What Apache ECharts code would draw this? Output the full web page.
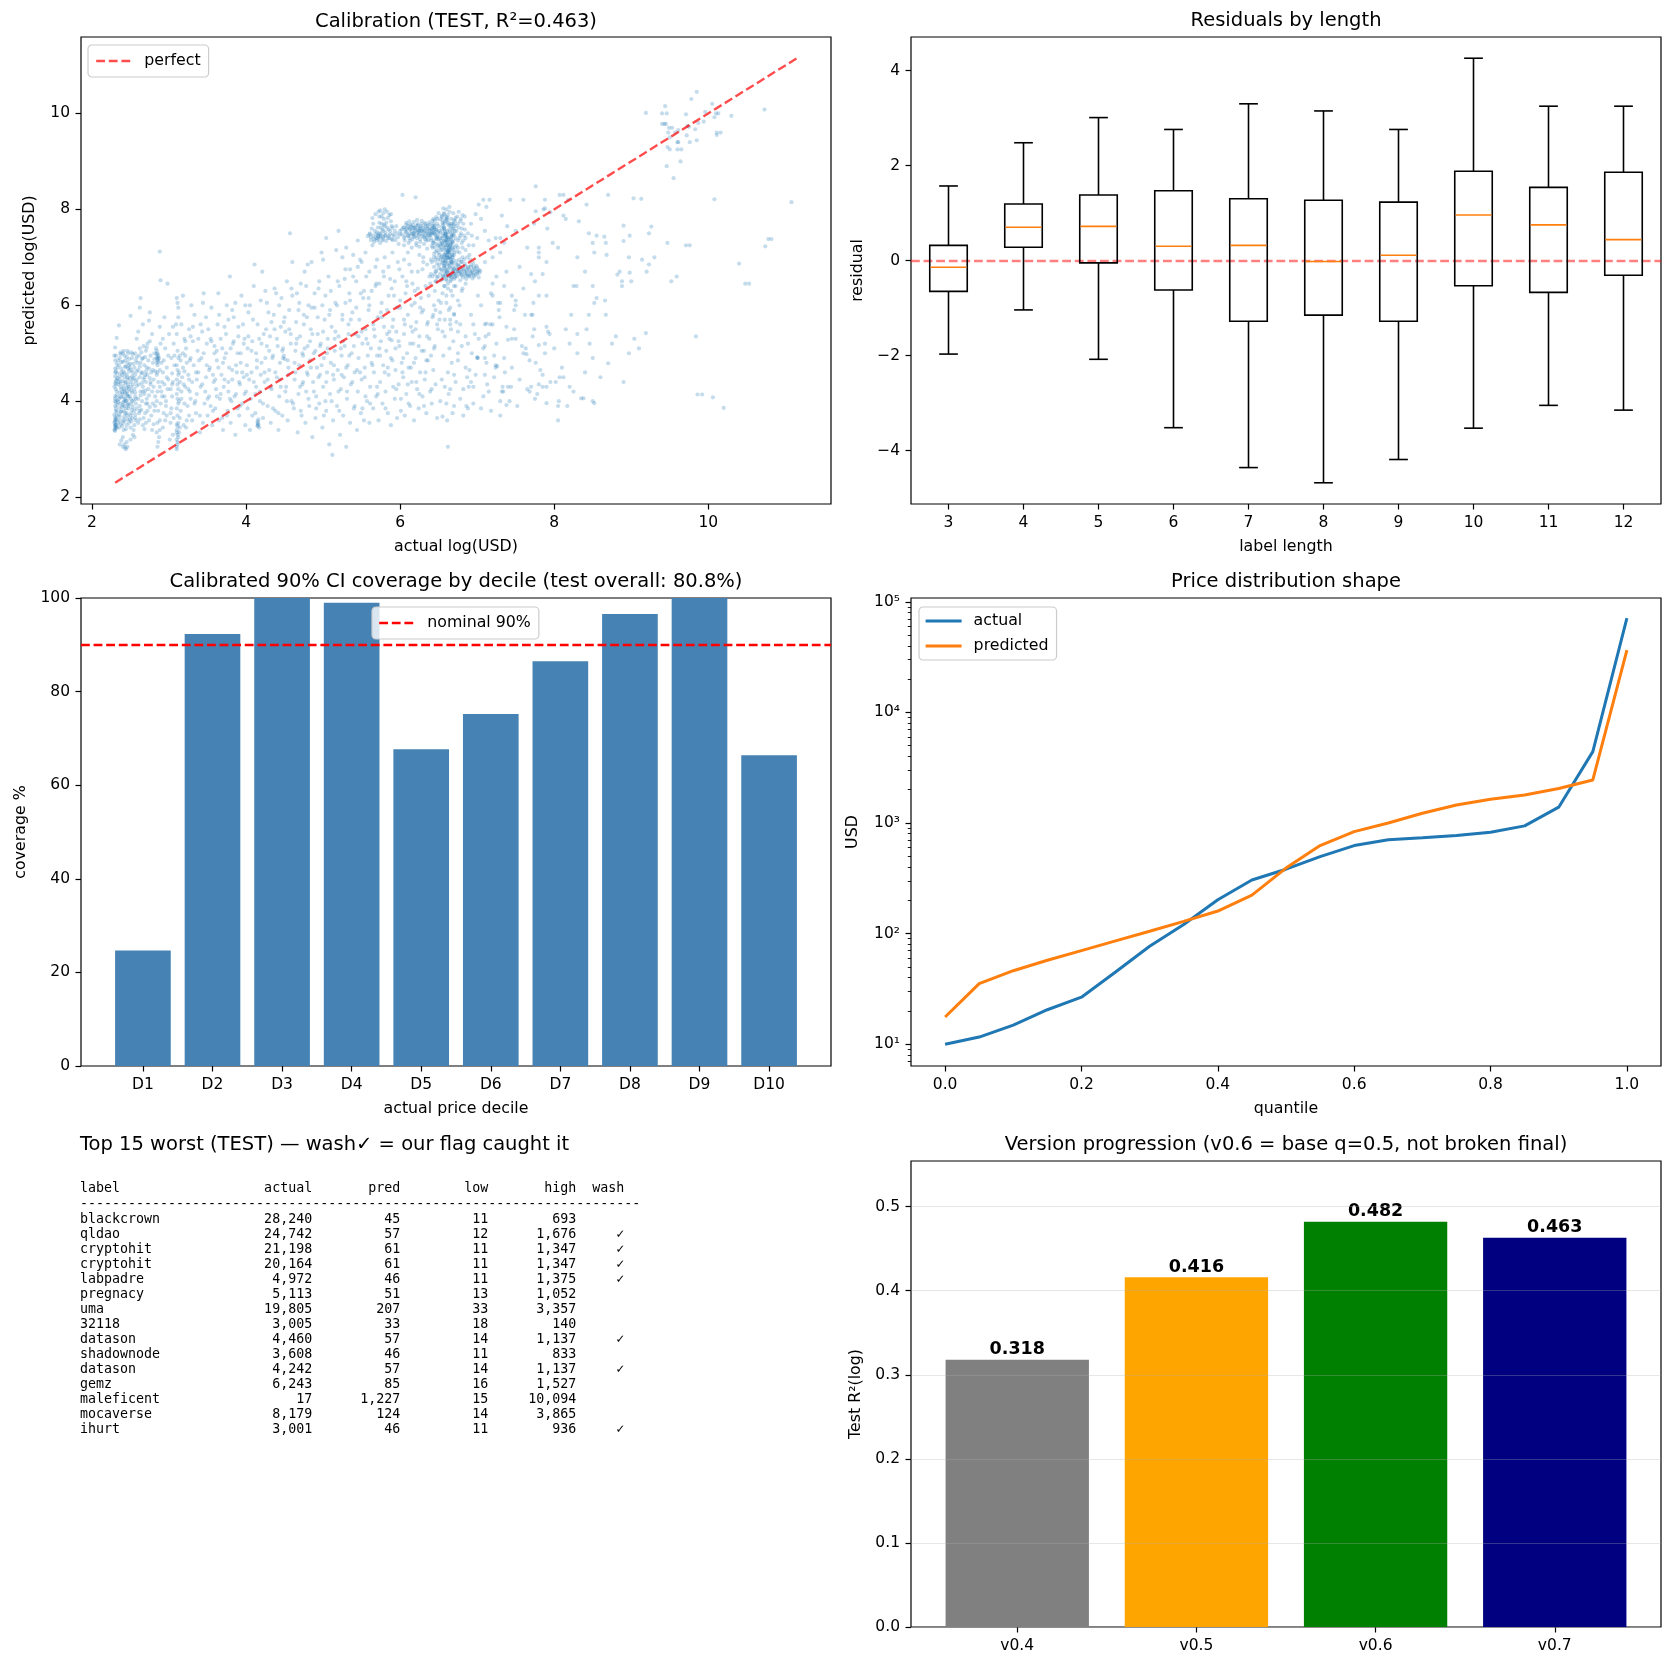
<!DOCTYPE html>
<html><head><meta charset="utf-8">
<script src="https://cdn.jsdelivr.net/npm/echarts@6/dist/echarts.min.js"></script>
<style>html,body{margin:0;padding:0;background:#fff}#c{width:1669px;height:1667px}</style>
</head><body><div id="c"></div>
<script>
const FONT = 'DejaVu Sans';
const MONO = 'DejaVu Sans Mono';

// ---------- Panel 1: calibration scatter (actual log, predicted log) ----------
const perfectRange = [2.3, 11.15];
const calibPoints = [
[2.30,3.42],[2.30,3.47],[2.31,3.52],[2.30,3.58],[2.31,3.63],[2.32,3.70],[2.30,3.38],[2.31,3.45],[2.29,3.55],[2.30,3.66],[2.32,3.78],[2.30,3.90],[2.31,3.97],[2.30,4.05],[2.32,4.12],[2.31,4.25],[2.30,4.38],[2.32,4.45],[2.30,4.52],[2.31,4.62],[2.33,4.70],[2.30,4.85],[2.31,4.95],[2.30,5.12],[2.32,5.32],
[2.35,3.45],[2.36,3.60],[2.35,3.72],[2.36,3.85],[2.37,3.95],[2.35,4.05],[2.36,4.18],[2.37,4.30],[2.35,4.40],[2.36,4.52],[2.38,4.60],[2.35,4.75],[2.36,4.90],[2.37,5.02],[2.35,5.58],
[2.40,3.25],[2.41,3.40],[2.40,3.55],[2.42,3.68],[2.41,3.80],[2.40,3.92],[2.42,4.00],[2.41,4.08],[2.40,4.15],[2.42,4.22],[2.41,4.32],[2.40,4.42],[2.42,4.50],[2.41,4.62],[2.43,4.72],[2.40,4.82],[2.42,4.95],[2.41,5.05],[2.42,3.10],[2.43,3.03],
[2.45,3.50],[2.46,3.62],[2.45,3.75],[2.47,3.85],[2.46,3.93],[2.45,4.02],[2.47,4.10],[2.46,4.20],[2.45,4.28],[2.47,4.35],[2.46,4.45],[2.45,4.55],[2.47,4.68],[2.46,4.80],[2.45,4.92],[2.47,5.00],[2.46,5.05],[2.45,3.15],[2.46,3.05],
[2.50,3.45],[2.51,3.58],[2.50,3.70],[2.52,3.82],[2.51,3.95],[2.50,4.05],[2.52,4.18],[2.51,4.30],[2.50,4.40],[2.52,4.52],[2.51,4.65],[2.50,4.78],[2.52,4.90],[2.51,5.02],[2.53,3.30],[2.50,3.20],[2.50,5.78],
[2.55,3.50],[2.56,3.65],[2.55,3.80],[2.57,3.95],[2.56,4.10],[2.55,4.25],[2.57,4.40],[2.56,4.55],[2.55,4.70],[2.57,4.85],[2.56,5.00],[2.58,5.30],[2.55,3.25],
[2.60,3.55],[2.61,3.75],[2.62,3.90],[2.60,4.05],[2.63,4.20],[2.61,4.35],[2.62,4.50],[2.60,4.65],[2.63,4.80],[2.61,4.95],[2.62,5.10],[2.60,5.45],[2.62,5.95],[2.63,6.15],
[2.66,3.50],[2.67,3.65],[2.65,4.00],[2.68,4.15],[2.66,4.30],[2.67,4.45],[2.65,4.60],[2.68,4.75],[2.66,4.90],[2.67,5.15],[2.66,5.60],
[2.70,3.55],[2.72,3.80],[2.71,4.05],[2.73,4.25],[2.70,4.40],[2.72,4.55],[2.71,4.70],[2.73,4.85],[2.70,5.05],[2.72,5.20],[2.74,5.68],[2.75,5.85],
[2.78,3.40],[2.77,3.70],[2.79,3.95],[2.78,4.20],[2.80,4.45],[2.77,4.60],[2.79,4.80],[2.81,5.00],[2.78,5.40],
[2.84,4.80],[2.85,4.85],[2.84,4.90],[2.86,4.95],[2.85,5.00],[2.84,5.05],[2.86,4.88],[2.85,4.75],[2.84,4.55],[2.86,4.40],[2.85,4.20],[2.84,4.00],[2.86,3.80],[2.85,3.55],[2.84,3.35],[2.86,3.15],[2.85,3.05],[2.87,3.25],[2.88,3.60],[2.88,4.30],[2.88,5.55],[2.88,7.12],[2.89,6.52],
[2.92,3.45],[2.93,3.75],[2.91,4.10],[2.94,4.35],[2.92,4.60],[2.93,4.85],[2.95,5.10],[2.92,5.30],[2.94,5.75],[2.96,3.90],[2.97,4.50],[2.98,6.45],
[3.10,3.00],[3.11,3.10],[3.10,3.20],[3.11,3.30],[3.10,3.40],[3.12,3.55],[3.11,3.70],[3.10,3.85],[3.12,3.95],[3.11,4.05],[3.10,4.15],[3.12,4.25],[3.11,4.35],[3.10,4.45],[3.12,4.55],[3.11,4.65],[3.10,4.75],[3.12,4.90],[3.11,5.05],[3.10,5.40],[3.12,5.75],[3.11,6.05],[3.10,6.15],[3.12,5.95],[3.11,3.48],[3.10,3.52],
[3.05,3.30],[3.06,3.65],[3.04,4.10],[3.05,4.40],[3.07,4.75],[3.06,5.20],[3.15,3.80],[3.16,4.20],[3.17,4.50],[3.15,4.85],[3.18,5.00],[3.16,5.60],[3.18,6.20],
[3.22,3.45],[3.24,3.90],[3.21,4.30],[3.25,4.55],[3.23,4.80],[3.22,5.10],[3.26,5.50],[3.28,4.05],[3.30,3.60],[3.30,4.40],[3.32,4.75],[3.31,5.25],[3.33,5.80],[3.35,3.75],[3.36,4.15],[3.38,4.60],[3.37,5.05],[3.40,3.35],[3.41,4.30],[3.42,4.90],[3.43,5.45],[3.44,6.05],[3.45,6.25],[3.46,3.95],[3.48,4.50],[3.49,5.20],[3.50,3.70],[3.52,4.10],[3.53,4.70],[3.54,5.30],[3.55,5.95],[3.56,3.50],[3.58,4.40],[3.59,5.00],[3.60,3.85],[3.61,4.25],[3.62,4.85],[3.63,5.60],[3.64,6.25],[3.65,3.60],
[3.66,4.05],[3.68,4.55],[3.69,5.10],[3.70,3.40],[3.71,4.30],[3.72,4.90],[3.74,5.40],[3.75,6.00],[3.76,3.80],[3.77,4.20],[3.78,4.70],[3.79,6.60],[3.80,3.55],[3.81,4.00],[3.82,4.45],[3.83,5.20],[3.84,5.75],[3.86,3.30],[3.87,4.15],[3.88,4.60],[3.89,5.00],[3.90,5.55],[3.91,3.70],[3.92,4.35],[3.93,4.80],[3.94,6.20],[3.95,3.95],[3.97,4.50],[3.98,5.30],[3.99,3.50],[4.00,4.20],[4.01,4.75],[4.02,5.10],[4.03,5.85],[4.05,3.40],[4.06,4.05],[4.07,4.60],[4.08,5.25],[4.10,6.40],[4.11,6.85],[4.12,3.75],[4.13,4.30],[4.14,4.85],
[4.15,3.50],[4.15,3.55],[4.16,3.52],[4.15,3.58],[4.16,3.62],[4.17,3.45],[4.15,3.48],
[4.18,4.00],[4.19,4.55],[4.20,5.20],[4.21,6.70],[4.22,3.65],[4.24,4.40],[4.25,4.90],[4.26,5.50],[4.27,6.05],[4.28,3.90],[4.30,4.65],[4.31,5.35],[4.32,3.55],[4.33,4.25],[4.35,4.95],[4.36,5.80],[4.37,6.35],[4.38,3.80],[4.40,4.50],[4.41,5.15],[4.42,3.40],[4.43,4.10],[4.44,4.80],[4.45,5.55],[4.46,6.15],[4.47,3.70],[4.48,4.90],[4.49,4.95],[4.50,4.88],[4.51,5.45],[4.52,4.30],[4.53,6.50],[4.54,3.60],[4.55,4.70],[4.56,5.90],[4.57,7.50],[4.58,5.20],[4.59,4.00],[4.60,6.90],
[4.62,3.85],[4.63,4.45],[4.64,5.05],[4.65,5.65],[4.66,6.25],[4.67,3.35],[4.68,4.15],[4.69,4.75],[4.70,5.35],[4.71,6.45],[4.72,3.70],[4.73,4.35],[4.74,4.95],[4.75,5.80],[4.76,6.70],[4.77,3.55],[4.78,4.20],[4.79,4.60],[4.80,5.15],[4.81,6.00],[4.82,3.90],[4.83,4.85],[4.84,5.50],[4.85,6.90],[4.86,3.25],[4.87,4.40],[4.88,5.00],[4.89,5.95],[4.90,3.65],[4.91,4.10],[4.92,4.70],[4.93,5.40],[4.94,6.35],[4.95,3.95],[4.96,4.55],[4.97,5.20],[4.98,7.10],[4.99,3.45],[5.00,4.30],[5.01,4.90],[5.02,5.70],[5.03,6.20],[5.04,3.80],[5.05,4.60],[5.06,5.30],[5.07,6.60],[5.08,3.10],[5.09,4.15],[5.10,4.80],[5.11,5.55],[5.12,2.88],[5.13,3.60],[5.14,4.45],[5.15,5.05],[5.16,6.05],[5.17,7.15],[5.18,3.90],[5.19,4.65],[5.20,5.35],[5.21,6.40],[5.22,3.30],[5.23,4.25],[5.24,4.95],[5.25,5.80],[5.26,3.70],[5.27,4.50],[5.28,5.15],[5.29,6.75],[5.30,3.05],[5.31,4.05],[5.32,4.75],[5.33,5.60],[5.34,6.25],[5.35,3.55],[5.36,4.35],[5.37,5.00],[5.38,5.85],[5.39,7.05],[5.40,3.85],[5.41,4.60],[5.42,5.40],[5.43,6.50],[5.44,3.40],[5.45,4.20],[5.46,4.90],[5.47,5.70],[5.48,6.95],[5.49,3.75],[5.50,4.45],[5.51,5.20],[5.52,6.15],[5.53,3.60],[5.54,4.70],[5.55,5.50],[5.56,6.60],[5.57,4.00],[5.58,4.95],[5.59,5.90],
[5.04,7.40],[5.30,7.20],[5.45,7.35],[5.55,7.10],[5.20,7.55],
[5.60,3.55],[5.61,4.30],[5.62,5.10],[5.63,6.30],[5.64,7.25],[5.65,3.85],[5.66,4.60],[5.67,5.35],[5.68,6.80],[5.69,4.10],[5.70,4.95],[5.71,5.75],[5.72,3.60],[5.73,6.45],[5.74,4.40],[5.75,5.25],[5.76,6.05],[5.77,3.95],[5.78,4.75],[5.79,5.55],[5.80,7.00],[5.81,4.20],[5.82,5.05],[5.83,5.90],[5.84,3.75],[5.85,4.55],[5.86,5.30],[5.87,6.55],[5.88,3.50],[5.89,5.27],[5.90,4.85],[5.91,5.70],[5.92,6.20],[5.93,4.05],[5.94,4.65],[5.95,5.45],[5.96,3.65],[5.97,6.90],[5.98,4.35],[5.99,5.15],[6.00,5.95],[6.01,3.80],[6.02,4.80],[6.03,6.60],[6.04,4.50],[6.05,5.40],[6.06,3.70],[6.07,6.25],[6.08,4.15],[6.09,5.00],[6.10,5.80],[6.11,4.70],[6.12,6.85],[6.13,3.90],[6.14,5.55],[6.15,4.40],[6.16,6.45],[6.17,5.20],[6.18,3.60],[6.19,6.05],[6.20,4.90],[6.21,5.65],[6.22,4.25],[6.23,6.70],[6.24,3.85],[6.25,5.35],[6.26,4.60],[6.27,6.15],[6.28,5.85],[6.29,4.10],[6.30,6.90],[6.31,5.05],[6.32,4.45],[6.33,6.40],[6.34,3.75],[6.35,5.60],[6.36,4.85],[6.37,6.20],[6.38,5.30],[6.39,4.20],[6.40,6.65],[6.41,3.95],[6.42,5.75],[6.43,4.65],[6.44,6.00],[6.45,5.15],[6.46,4.35],[6.47,6.50],[6.48,3.65],[6.49,5.50],
[5.70,7.40],[5.71,7.45],[5.72,7.38],[5.73,7.50],[5.74,7.42],[5.75,7.62],[5.76,7.70],[5.77,7.35],[5.78,7.55],[5.79,7.80],[5.80,7.65],[5.81,7.45],[5.82,7.72],[5.83,7.95],[5.84,7.40],[5.85,7.58],[5.86,7.88],[5.87,7.48],[5.88,7.75],[5.89,7.38],[5.90,7.62],[5.92,7.44],[5.94,7.36],[5.96,7.50],[5.98,7.28],[5.65,7.45],[5.66,7.38],[5.62,7.42],[5.60,7.48],[5.58,7.44],[5.74,7.98],[5.78,7.92],[5.73,7.85],[5.68,7.40],
[6.00,7.55],[6.02,7.48],[6.04,7.62],[6.05,7.40],[6.07,7.58],[6.08,7.52],[6.10,7.65],[6.11,7.45],[6.12,7.60],[6.13,7.35],[6.15,7.55],[6.16,7.68],[6.17,7.50],[6.18,7.42],[6.19,7.62],[6.20,7.58],[6.21,7.30],[6.22,7.52],[6.23,7.66],[6.24,7.45],[6.25,7.60],[6.26,7.38],[6.27,7.56],[6.28,7.70],[6.29,7.48],[6.30,7.62],[6.31,7.42],[6.32,7.55],[6.33,7.65],[6.34,7.35],[6.35,7.52],[6.36,7.60],[6.37,7.45],[6.38,7.68],[6.39,7.58],[6.40,7.40],[6.41,7.55],[6.42,7.62],[6.43,7.30],[6.44,7.50],[6.45,7.66],[6.46,7.45],[6.47,7.58],[6.48,7.38],[6.49,7.52],[6.05,7.25],[6.15,7.20],[6.25,7.22],[6.35,7.18],[6.12,7.75],[6.22,7.78],[6.32,7.72],[6.42,7.76],[6.08,7.68],[6.18,7.62],[6.28,7.55],[6.38,7.50],[6.20,8.25],[6.03,8.30],[6.30,7.00],[6.10,7.10],
[6.55,6.55],[6.56,6.62],[6.57,6.70],[6.58,6.78],[6.59,6.85],[6.60,6.92],[6.61,7.00],[6.62,7.08],[6.63,7.15],[6.64,7.22],[6.65,7.30],[6.66,7.38],[6.67,7.45],[6.68,7.52],[6.69,7.60],[6.70,7.68],[6.71,7.75],[6.72,7.82],
[6.54,7.85],[6.55,7.78],[6.56,7.70],[6.57,7.62],[6.58,7.55],[6.59,7.48],[6.60,7.40],[6.61,7.32],[6.62,7.25],[6.63,7.18],[6.64,7.10],[6.65,7.02],[6.66,6.95],[6.67,6.88],[6.68,6.80],[6.69,6.72],[6.70,6.65],[6.71,6.58],
[6.58,6.60],[6.60,6.68],[6.62,6.75],[6.64,6.82],[6.66,6.90],[6.58,6.98],[6.60,7.05],[6.62,7.12],[6.64,7.20],[6.66,7.28],[6.58,7.35],[6.60,7.42],[6.62,7.50],[6.64,7.58],[6.66,7.65],[6.58,7.72],[6.60,7.80],[6.62,7.88],[6.64,7.95],[6.63,6.60],[6.61,6.68],[6.59,6.75],[6.57,6.82],[6.55,6.90],[6.63,6.98],[6.61,7.05],[6.59,7.12],[6.57,7.20],[6.55,7.28],[6.63,7.35],[6.61,7.42],[6.59,7.50],[6.57,7.58],[6.55,7.65],[6.63,7.72],[6.61,7.78],[6.59,7.85],[6.57,7.92],[6.60,6.52],[6.62,6.45],[6.58,6.40],[6.65,6.50],[6.60,8.00],[6.64,8.05],[6.56,8.02],[6.68,7.30],[6.68,7.00],[6.67,7.70],[6.53,7.00],[6.52,7.40],[6.51,7.20],[6.69,7.45],[6.70,7.10],[6.72,7.40],
[6.72,6.70],[6.74,6.75],[6.76,6.72],[6.78,6.80],[6.80,6.68],[6.82,6.76],[6.84,6.82],[6.86,6.70],[6.88,6.78],[6.90,6.74],[6.92,6.80],[6.94,6.68],[6.96,6.76],[6.98,6.72],[7.00,6.78],[7.02,6.74],[6.75,6.85],[6.85,6.62],[6.95,6.88],[6.80,6.90],[6.90,6.60],
[6.75,7.20],[6.78,7.45],[6.80,7.60],[6.82,7.35],[6.85,7.15],[6.88,7.50],[6.90,7.05],[6.92,7.70],[6.95,7.25],[6.98,7.90],[7.00,7.40],[7.02,8.10],[7.05,7.80],[7.08,8.20],[7.10,7.55],[7.12,8.05],[6.76,7.95],[6.84,7.85],
[6.45,6.30],[6.50,6.10],[6.52,5.85],[6.55,6.25],[6.58,5.70],[6.60,6.05],[6.62,6.35],[6.65,5.95],[6.68,6.20],[6.70,5.80],[6.72,6.40],[6.48,5.60],[6.55,5.45],[6.65,5.60],[6.75,6.10],[6.80,6.30],[6.85,6.45],[6.62,3.05],[6.55,3.68],[6.60,3.95],[6.65,4.25],[6.70,4.55],[6.75,4.85],[6.80,5.15],[6.85,5.35],[6.90,4.65],[6.95,4.30],[7.00,4.90],[6.78,4.05],[6.88,3.85],
[7.16,8.20],[7.43,8.20],[7.60,8.20],[7.76,8.48],[7.88,8.20],[8.07,8.30],[8.12,8.30],[8.18,8.20],[8.42,8.10],[8.15,7.80],[8.12,7.87],[8.32,7.75],[7.95,7.94],[7.86,8.00],[7.88,8.02],[7.76,7.96],[7.74,7.70],[7.91,7.60],[7.98,7.30],[7.80,7.20],[7.80,7.10],[7.80,7.00],[7.32,7.87],[7.39,7.65],[7.30,7.40],[7.24,7.40],[7.15,7.35],[7.30,7.10],[7.38,6.70],[7.35,6.40],[7.45,6.20],[7.50,6.10],[7.60,6.35],[7.70,6.65],[7.75,6.50],[7.85,6.65],[7.80,6.20],[7.90,6.20],[7.73,6.05],[7.50,6.00],[7.48,5.90],[7.70,5.80],[7.72,5.80],[7.90,5.55],[7.92,5.45],[7.94,5.40],[7.88,5.20],[8.20,5.20],[8.22,5.80],[8.25,6.40],[8.29,6.40],[8.30,5.40],[8.42,5.50],[8.46,5.20],[8.50,7.30],[8.55,7.45],[8.45,7.50],[8.52,7.10],[8.50,6.40],[8.52,6.05],[8.55,6.15],[8.67,5.80],[8.66,6.10],[8.80,5.35],[8.50,4.90],[8.50,4.00],[8.52,3.96],[8.35,4.06],[8.38,4.06],[8.20,4.30],[8.17,3.90],[8.07,4.50],[8.12,4.50],[8.02,4.40],[8.05,3.90],[8.05,3.60],[8.06,4.00],[7.90,3.96],[7.90,4.30],[7.85,4.30],[7.85,4.55],[7.80,4.35],[7.70,4.30],[7.68,4.20],[7.78,4.15],[7.76,4.80],[7.80,5.17],[7.74,5.50],[7.60,5.00],[7.63,5.10],[7.64,4.98],[7.50,5.30],[7.45,5.30],[7.40,5.28],[7.30,6.05],[7.27,6.05],[7.20,6.20],[7.18,6.25],[7.10,5.60],[7.20,5.60],[7.17,5.60],[7.29,5.75],[7.11,5.35],[7.10,4.90],[7.08,5.10],[7.10,5.15],[7.22,4.95],[7.24,4.75],[7.26,4.73],[7.24,4.70],[7.36,4.60],[7.33,4.30],[7.34,4.20],[7.40,4.30],[7.44,4.30],[7.38,3.92],[7.30,4.00],[7.30,3.70],[7.15,4.20],[7.10,4.55],[7.13,4.35],[7.00,4.92],[7.01,4.90],[6.87,4.50],[6.82,4.25],[6.92,4.40],[6.58,4.30],[6.75,5.45],[6.65,5.70],[6.70,5.82],[6.95,5.60],[7.12,5.62],
[8.70,8.30],[9.03,8.23],[9.13,8.22],[8.67,7.30],[8.68,7.05],[8.65,7.43],[8.98,7.45],[8.90,7.66],[8.90,7.34],[8.97,7.00],[8.98,6.68],[9.00,6.50],[8.88,6.50],[8.88,6.40],[8.85,6.70],[8.82,6.64],[9.14,6.95],[9.23,6.85],[9.30,7.00],[9.20,6.70],[9.26,7.64],[9.23,7.50],[9.47,7.30],[9.71,7.25],[9.76,7.25],[9.59,6.60],[9.52,6.50],[9.19,5.42],[8.97,5.00],[9.04,5.30],[8.70,4.79],[9.84,5.35],[9.86,4.14],[9.92,4.14],[10.06,4.08],[10.20,3.86],[10.08,8.21],[10.40,6.87],[10.48,6.45],[10.53,6.45],[10.74,7.23],[10.78,7.38],[10.82,7.38],[10.73,10.08],[11.08,8.15],
[9.19,10.01],[9.40,10.00],[9.44,10.15],[9.46,10.00],[9.40,9.78],[9.43,9.78],[9.45,9.78],[9.49,9.70],[9.53,9.70],[9.57,9.60],[9.61,9.65],[9.48,9.60],[9.50,9.50],[9.60,9.40],[9.47,9.30],[9.50,9.25],[9.60,9.25],[9.65,9.25],[9.46,8.90],[9.55,8.65],[9.64,9.00],[9.71,9.98],[9.78,10.30],[9.85,10.45],[9.73,9.74],[9.75,9.72],[9.83,9.67],[9.87,9.80],[9.85,9.44],[9.76,9.40],[9.72,9.54],[9.61,9.40],[9.94,9.83],[9.96,10.03],[10.05,10.20],[10.10,10.00],[10.13,10.00],[10.08,9.92],[10.11,9.60],[10.16,9.60],[10.11,9.55],[10.30,9.95],
[6.46,6.50],[6.53,6.52],[6.60,6.55],[6.66,6.53],[6.48,6.58],[6.55,6.60],[6.62,6.62],[6.67,6.58],[6.45,6.65],[6.52,6.66],[6.59,6.64],[6.65,6.68],[6.47,6.72],[6.54,6.74],[6.61,6.71],[6.68,6.75],[6.44,6.80],[6.50,6.78],[6.57,6.82],[6.64,6.79],[6.48,6.86],[6.55,6.88],[6.62,6.85],[6.67,6.90],[6.45,6.93],[6.52,6.95],[6.59,6.92],[6.65,6.97],[6.47,7.00],[6.54,7.02],[6.61,6.99],[6.68,7.04],[6.44,7.07],[6.50,7.09],[6.57,7.06],[6.64,7.10],[6.48,7.14],[6.55,7.16],[6.62,7.13],[6.67,7.18],[6.45,7.21],[6.52,7.23],[6.59,7.20],[6.65,7.25],[6.47,7.28],[6.54,7.30],[6.61,7.27],[6.68,7.32],[6.44,7.35],[6.50,7.37],[6.57,7.34],[6.64,7.38],[6.48,7.42],[6.55,7.44],[6.62,7.41],[6.67,7.46],[6.45,7.49],[6.52,7.51],[6.59,7.48],[6.65,7.53],[6.47,7.56],[6.54,7.58],[6.61,7.55],[6.68,7.60],[6.44,7.63],[6.50,7.65],[6.57,7.62],[6.64,7.66],[6.48,7.70],[6.55,7.72],[6.62,7.69],[6.45,7.77],[6.52,7.79],[6.59,7.76],[6.47,7.84],[6.54,7.86],[6.61,7.83],[6.50,7.92],[6.57,7.90],
[6.49,6.95],[6.51,7.05],[6.53,7.15],[6.56,7.25],[6.58,7.05],[6.60,7.15],[6.49,7.25],[6.51,6.85],[6.53,7.35],[6.56,6.95],[6.58,7.45],[6.60,7.25],[6.49,7.45],[6.51,7.55],[6.53,6.75],[6.56,7.50],[6.58,6.90],[6.60,7.35],[6.63,7.00],[6.46,7.12],[6.47,7.40],[6.57,7.00],[6.55,7.40],[6.52,7.28],[6.59,7.32],
[6.70,6.55],[6.74,6.60],[6.78,6.52],[6.82,6.58],[6.86,6.55],[6.90,6.62],[6.94,6.56],[6.98,6.64],[7.02,6.58],[6.71,6.66],[6.75,6.70],[6.79,6.64],[6.83,6.72],[6.87,6.66],[6.91,6.70],[6.95,6.64],[6.99,6.82],[7.03,6.68],[6.72,6.78],[6.76,6.82],[6.80,6.76],[6.84,6.86],[6.88,6.80],[6.92,6.84],[6.96,6.80],[7.00,6.70],[6.69,6.88],[6.73,6.92],[6.77,6.95],[6.81,7.00],[6.70,7.05],[6.74,7.12],
[6.70,7.48],[6.73,7.55],[6.76,7.62],[6.79,7.50],[6.82,7.70],[6.70,7.78],[6.74,7.85],[6.78,7.75],[6.81,7.88],[6.84,7.58],[6.69,7.92],[6.72,7.65],[6.77,7.40],[6.80,7.30],[6.73,7.25],
[6.06,7.44],[6.09,7.60],[6.12,7.50],[6.14,7.64],[6.17,7.46],[6.19,7.55],[6.21,7.66],[6.24,7.52],[6.26,7.62],[6.29,7.44],[6.31,7.58],[6.34,7.50],[6.36,7.66],[6.39,7.46],[6.41,7.60],[6.43,7.52],[6.07,7.53],[6.10,7.45],[6.13,7.58],[6.16,7.62],[6.18,7.50],[6.20,7.45],[6.23,7.57],[6.25,7.48],[6.27,7.65],[6.30,7.53],[6.33,7.45],[6.35,7.60],[6.38,7.55],[6.40,7.48],[6.42,7.66],[6.44,7.57],
[6.06,7.35],[6.11,7.30],[6.16,7.38],[6.21,7.25],[6.26,7.32],[6.31,7.28],[6.36,7.36],[6.41,7.24],[6.08,7.72],[6.13,7.68],[6.18,7.74],[6.23,7.70],[6.28,7.76],[6.33,7.69],[6.38,7.73],[6.43,7.70],[6.05,7.62],[6.15,7.48],[6.25,7.55],[6.35,7.42],[6.22,7.40],[6.32,7.38],[6.12,7.40],[6.40,7.35],
[5.93,7.55],[5.97,7.42],[6.00,7.48],[6.02,7.58],[5.95,7.65],
[5.61,7.50],[5.63,7.60],[5.65,7.70],[5.67,7.55],[5.69,7.48],[5.71,7.62],[5.73,7.72],[5.75,7.45],[5.77,7.58],[5.79,7.68],[5.81,7.52],[5.83,7.62],[5.85,7.45],[5.87,7.55],[5.89,7.65],[5.91,7.48],[5.62,7.36],[5.66,7.32],[5.70,7.35],[5.74,7.30],[5.78,7.38],[5.82,7.34],[5.86,7.40],[5.90,7.36],[5.64,7.82],[5.68,7.90],[5.72,7.95],[5.76,7.85],[5.80,8.00],[5.84,7.82],[5.88,7.90],[5.70,7.52],[5.75,7.50],[5.80,7.46],[5.72,7.44],[5.78,7.42],
[2.29,3.40],[2.31,3.50],[2.30,3.60],[2.32,3.45],[2.29,3.72],[2.31,3.85],[2.33,3.92],[2.30,4.00],[2.32,4.20],[2.29,4.30],[2.31,4.42],[2.33,4.58],[2.30,4.68],[2.32,4.78],[2.29,4.95],[2.34,3.55],[2.36,3.68],[2.38,3.78],[2.34,3.98],[2.36,4.10],[2.38,4.25],[2.34,4.35],[2.36,4.45],[2.38,4.68],[2.34,4.85],[2.37,4.98],
[2.39,3.48],[2.41,3.62],[2.43,3.75],[2.39,3.88],[2.41,3.98],[2.43,4.05],[2.39,4.18],[2.41,4.25],[2.43,4.40],[2.39,4.55],[2.43,4.85],[2.40,5.00],[2.44,3.42],[2.46,3.70],[2.48,3.90],[2.44,4.00],[2.46,4.12],[2.48,4.25],[2.44,4.38],[2.46,4.50],[2.48,4.62],[2.44,4.72],[2.48,4.88],
[2.49,3.62],[2.51,3.75],[2.53,3.88],[2.49,4.10],[2.51,4.22],[2.53,4.35],[2.49,4.48],[2.53,4.60],[2.49,4.70],[2.53,4.98],[2.54,3.40],[2.56,3.72],[2.58,3.85],[2.54,4.02],[2.56,4.18],[2.58,4.32],[2.54,4.48],[2.58,4.62],[2.54,4.78],[2.58,4.92],[2.36,3.10],[2.38,3.18],[2.44,3.00],[2.40,3.05],
[2.62,3.62],[2.64,3.82],[2.63,4.12],[2.65,4.38],[2.64,4.58],[2.62,4.72],[2.65,4.88],[2.64,5.02],[2.68,3.42],[2.69,3.75],[2.70,3.95],[2.69,4.22],[2.68,4.50],[2.70,4.62],[2.69,4.92],[2.71,5.12],[2.74,3.60],[2.75,3.88],[2.74,4.12],[2.76,4.35],[2.75,4.48],[2.74,4.68],[2.76,4.95],[2.75,5.25],
[2.80,3.52],[2.81,3.80],[2.82,4.10],[2.80,4.30],[2.82,4.62],[2.81,4.88],[2.83,5.10],[2.88,3.40],[2.89,3.95],[2.90,4.20],[2.88,4.65],[2.90,4.80],[2.89,5.20],[2.95,3.60],[2.96,4.00],[2.98,4.25],[2.97,4.70],[2.99,4.95],[3.00,5.40],[3.01,3.20],
[3.02,3.55],[3.03,3.85],[3.02,4.25],[3.04,4.58],[3.03,4.90],[3.05,5.55],[3.13,3.35],[3.14,3.65],[3.13,4.00],[3.14,4.40],[3.13,4.60],[3.14,4.95],[3.19,3.50],[3.20,3.95],[3.19,4.35],[3.20,4.62],[3.21,4.95],[3.20,5.30],[3.26,3.70],[3.27,4.20],[3.26,4.45],[3.27,4.85],[3.28,5.35],[3.29,6.00],[3.10,3.05],[3.11,3.15],[3.12,3.25],[3.10,3.35],
[3.34,4.00],[3.36,4.45],[3.39,4.85],[3.41,5.60],[3.44,3.55],[3.47,4.20],[3.49,4.75],[3.51,5.50],[3.54,3.90],[3.57,4.55],[3.59,5.15],[3.62,4.10],[3.64,4.70],[3.67,5.30],[3.69,3.65],[3.72,4.45],[3.74,5.00],[3.77,5.70],[3.79,4.05],[3.82,4.65],[3.84,5.25],[3.86,6.05],[3.89,3.85],[3.91,4.40],[3.93,5.00],[3.96,5.60],[3.98,4.15],[4.01,4.55],[4.03,5.35],[4.05,6.00],
[4.08,3.70],[4.10,4.40],[4.13,5.00],[4.15,5.60],[4.18,4.20],[4.20,4.80],[4.23,5.40],[4.25,6.30],[4.28,4.45],[4.30,5.05],[4.33,5.65],[4.35,3.85],[4.38,4.60],[4.40,5.30],[4.43,6.00],[4.45,4.30],[4.48,5.10],[4.50,5.75],[4.53,4.00],[4.55,4.55],[4.58,5.40],[4.60,6.20],[4.63,4.80],[4.65,5.20],[4.68,5.90],[4.70,4.30],[4.73,5.00],[4.75,5.60],[4.78,6.40],[4.80,4.55],
[4.83,5.25],[4.85,5.95],[4.88,4.20],[4.90,5.05],[4.93,5.75],[4.95,6.50],[4.98,4.75],[5.00,5.45],[5.03,4.00],[5.05,5.00],[5.08,5.80],[5.10,6.30],[5.13,4.55],[5.15,5.30],[5.18,6.00],[5.20,4.20],[5.23,5.10],[5.25,5.70],[5.28,6.55],[5.30,4.70],[5.33,5.40],[5.35,6.10],[5.38,4.40],[5.40,5.15],[5.43,5.95],[5.45,6.80],[5.48,4.60],[5.50,5.45],[5.53,6.30],[5.55,4.10],
[5.58,5.20],[5.60,6.00],[5.63,4.80],[5.65,5.60],[5.68,6.40],[5.70,4.30],[5.73,5.10],[5.75,5.85],[5.78,6.70],[5.80,4.60],[5.83,5.40],[5.85,6.20],[5.88,4.90],[5.90,5.55],[5.93,6.50],[5.95,4.25],[5.98,5.25],[6.00,6.10],[6.03,4.60],[6.05,5.70],[6.08,6.50],[6.10,4.35],[6.13,5.20],[6.15,6.00],[6.18,4.80],[6.20,5.50],[6.23,6.35],[6.25,4.15],[6.28,5.05],[6.30,5.90],[6.33,4.60],[6.35,5.35],[6.38,6.60],[6.40,4.95],[6.43,5.80],
[4.80,6.85],[5.00,6.95],[5.25,7.00],[5.50,6.90],[5.70,6.95],[5.90,7.10],[6.05,6.95],[6.25,7.05],[6.40,6.95],[5.35,6.75],[5.60,6.70],[5.85,6.80],[6.15,6.70],[6.35,6.85],
[6.70,3.90],[6.72,4.40],[6.75,5.00],[6.78,5.60],[6.82,3.70],[6.85,4.70],[6.88,5.20],[6.92,5.80],[6.95,3.95],[6.98,4.55],[7.02,5.30],[7.05,6.00],[7.08,4.10],[7.12,4.80],[7.15,5.40],[7.18,3.80],[7.22,4.50],[7.25,5.20],[7.28,5.90],[7.32,4.20],[7.35,4.90],[7.38,5.55],[7.42,4.00],[7.45,4.70],[7.48,5.50],[7.52,3.90],[7.55,4.45],[7.58,5.15],[7.62,5.80],[7.65,4.25],
[7.68,4.85],[7.72,5.35],[7.75,4.05],[7.82,4.65],[7.88,5.00],[7.95,4.40],[8.00,5.10],[8.10,4.70],[8.15,5.50],[8.25,4.20],[8.30,5.00],[8.40,4.60],[8.45,5.80],[8.60,4.50],[8.75,5.20],[8.90,4.40],[9.10,5.10],[6.62,4.60],[6.64,5.10],[6.66,5.50],[6.68,3.75],[6.60,6.20],[6.63,5.90],[6.66,6.30],[6.70,6.40],
[7.20,7.00],[7.35,7.30],[7.50,7.55],[7.65,7.20],[7.55,6.80],[7.25,6.60],[7.90,6.90],[8.05,7.20],[8.30,7.00],[8.40,6.70],[7.10,6.90],[7.20,6.45],
[3.02,3.75],[3.04,4.35],[3.07,4.95],[3.09,5.60],[3.14,3.45],[3.16,4.05],[3.18,4.70],[3.21,5.25],[3.23,3.60],[3.25,4.25],[3.28,4.90],[3.31,5.55],[3.33,3.95],[3.35,4.60],[3.38,5.30],[3.40,3.70],[3.43,4.35],[3.45,5.00],[3.48,5.75],[3.50,4.05],
[3.52,4.65],[3.55,5.25],[3.57,3.80],[3.60,4.45],[3.62,5.05],[3.65,5.80],[3.67,4.15],[3.70,4.80],[3.72,5.55],[3.75,3.70],[3.77,4.40],[3.80,5.10],[3.82,5.90],[3.85,4.10],[3.87,4.75],[3.90,5.35],[3.92,3.90],[3.95,4.60],[3.97,5.20],[3.99,6.00],
[4.02,3.85],[4.04,4.45],[4.07,5.05],[4.09,5.70],[4.12,4.15],[4.14,4.70],[4.17,5.30],[4.19,6.10],[4.22,3.95],[4.24,4.60],[4.27,5.15],[4.29,5.85],[4.32,4.30],[4.34,4.90],[4.37,5.50],[4.39,6.25],[4.42,3.75],[4.44,4.45],[4.47,5.05],[4.49,5.65],
[4.51,4.20],[4.54,4.85],[4.56,5.50],[4.59,6.35],[4.61,3.95],[4.64,4.60],[4.66,5.30],[4.69,6.05],[4.71,3.80],[4.74,4.40],[4.76,5.10],[4.79,5.75],[4.81,4.05],[4.84,4.70],[4.86,5.40],[4.89,6.25],[4.91,3.85],[4.94,4.50],[4.96,5.15],[4.99,6.00],
[5.01,3.70],[5.04,4.40],[5.06,5.10],[5.09,5.90],[5.11,4.00],[5.14,4.75],[5.16,5.45],[5.19,6.50],[5.21,3.80],[5.24,4.55],[5.26,5.25],[5.29,6.05],[5.31,4.20],[5.34,4.95],[5.36,5.70],[5.39,6.60],[5.41,3.90],[5.44,4.65],[5.46,5.35],[5.49,6.25],
[5.51,3.85],[5.54,4.50],[5.56,5.30],[5.59,6.15],[5.61,3.95],[5.64,4.75],[5.66,5.50],[5.69,6.45],[5.71,4.15],[5.74,4.95],[5.76,5.75],[5.79,6.60],[5.81,3.85],[5.84,4.70],[5.86,5.45],[5.89,6.35],[5.91,4.30],[5.94,5.10],[5.96,5.95],[5.99,6.75],
[6.01,4.05],[6.04,4.90],[6.06,5.60],[6.09,6.40],[6.11,3.95],[6.14,4.70],[6.16,5.45],[6.19,6.30],[6.21,4.40],[6.24,5.15],[6.26,5.95],[6.29,6.75],[6.31,3.90],[6.34,4.85],[6.36,5.65],[6.39,6.45],[6.41,4.25],[6.44,5.10],[6.46,5.90],[6.49,6.60],
[2.30,3.50],[2.31,3.80],[2.30,4.10],[2.31,4.35],[2.30,4.60],[2.32,3.62],[2.33,4.02],[2.33,4.48],[2.37,3.52],[2.37,3.78],[2.38,4.08],[2.37,4.38],[2.38,4.82],[2.42,3.58],[2.42,3.90],[2.43,4.18],[2.42,4.58],[2.44,3.85],[2.45,4.15],[2.47,3.95],[2.47,4.30],[2.48,3.55],[2.48,4.75],[2.52,3.65],[2.52,4.00],[2.53,4.45],[2.57,3.60],[2.57,4.05],[2.58,4.45],[2.59,4.80],
[2.62,3.80],[2.66,4.20],[2.69,4.55],[2.72,3.95],[2.76,4.40],[2.79,4.65],[2.82,3.90],[2.85,4.60],[2.87,4.90],[2.91,4.40],[2.94,4.10],[2.97,3.70],[2.99,4.45],[2.85,4.92],[2.86,4.82],[2.84,4.98],
[6.41,6.90],[6.42,7.20],[6.41,7.50],[6.43,7.80],[6.42,6.60],[6.66,6.60],[6.69,6.95],[6.71,7.20],[6.73,6.85],[6.75,7.35],[6.77,7.10],[6.79,6.90],[6.81,7.20],[6.83,6.95],[6.85,7.40],[6.87,7.00],[6.89,7.25],[6.91,6.95],[6.93,7.45],[6.71,7.55],[6.75,7.70],[6.79,7.80],[6.83,7.45],[6.66,7.80],[6.68,7.70],[6.69,7.15],[6.70,6.75],[6.67,6.65],[6.65,6.62],[6.44,7.00],[6.43,7.30],[6.45,7.60],[6.46,6.70],[6.48,7.80],[6.66,7.42],[6.68,7.22],[6.69,7.35],[6.67,7.05],[6.65,7.15],[6.64,6.88],
[6.72,6.62],[6.76,6.66],[6.80,6.62],[6.84,6.66],[6.88,6.62],[6.92,6.66],[6.96,6.60],[7.00,6.66],[6.78,6.70],[6.86,6.74],[6.94,6.72],[7.04,6.72],
[6.52,4.00],[6.54,4.45],[6.56,4.95],[6.58,5.35],[6.51,5.70],[6.53,6.05],[6.57,6.40],[6.61,3.60],[6.63,4.15],[6.67,4.80],[6.69,5.25],[6.73,5.65],[6.77,6.00],[6.81,6.35],[6.86,3.90],[6.89,4.30],[6.93,5.00],[6.97,5.40],[7.01,6.20],[7.05,3.85]
];

// ---------- Panel 2: residuals by label length ----------
const boxLengths = ['3','4','5','6','7','8','9','10','11','12'];
const boxWhiskerLow  = [-1.97,-1.04,-2.08,-3.52,-4.36,-4.68,-4.19,-3.53,-3.05,-3.15];
const boxQ1          = [-0.65, 0.28,-0.05,-0.62,-1.28,-1.15,-1.28,-0.53,-0.67,-0.31];
const boxMedian      = [-0.14, 0.70, 0.72, 0.30, 0.32,-0.02, 0.11, 0.96, 0.75, 0.44];
const boxQ3          = [ 0.32, 1.19, 1.38, 1.47, 1.30, 1.27, 1.23, 1.88, 1.54, 1.86];
const boxWhiskerHigh = [ 1.57, 2.48, 3.01, 2.76, 3.30, 3.15, 2.76, 4.26, 3.25, 3.25];
const residualZero = 0;

// ---------- Panel 3: coverage by decile ----------
const deciles = ['D1','D2','D3','D4','D5','D6','D7','D8','D9','D10'];
const coveragePct = [24.7, 92.3, 100, 99.0, 67.7, 75.2, 86.5, 96.6, 100, 66.4];
const nominalCoverage = 90;

// ---------- Panel 4: price distribution shape ----------
const quantiles = [0,0.05,0.1,0.15,0.2,0.25,0.3,0.35,0.4,0.45,0.5,0.55,0.6,0.65,0.7,0.75,0.8,0.85,0.9,0.95,1.0];
const actualUSD = [10.0,11.6,14.9,20.5,26.6,44.9,76.8,121,202,305,382,496,625,705,737,771,824,942,1390,4420,71000];
const predictedUSD = [17.6,35.3,46.2,57.4,70.2,85.9,105,129,160,223,391,625,836,1000,1224,1453,1637,1791,2048,2449,36500];
const usdTickLabels = ['10¹','10²','10³','10⁴','10⁵'];

// ---------- Panel 5: version progression ----------
const versions = ['v0.4','v0.5','v0.6','v0.7'];
const versionR2 = [0.318, 0.416, 0.482, 0.463];
const versionColors = ['#808080','#ffa500','#008000','#000080'];

// ---------- Table: top 15 worst ----------
const tblLabel  = ['blackcrown','qldao','cryptohit','cryptohit','labpadre','pregnacy','uma','32118','datason','shadownode','datason','gemz','maleficent','mocaverse','ihurt'];
const tblActual = [28240,24742,21198,20164,4972,5113,19805,3005,4460,3608,4242,6243,17,8179,3001];
const tblPred   = [45,57,61,61,46,51,207,33,57,46,57,85,1227,124,46];
const tblLow    = [11,12,11,11,11,13,33,18,14,11,14,16,15,14,11];
const tblHigh   = [693,1676,1347,1347,1375,1052,3357,140,1137,833,1137,1527,10094,3865,936];
const tblWash   = [false,true,true,true,true,false,false,false,true,false,true,false,false,false,true];

// ================= chart =================
const chart = echarts.init(document.getElementById('c'), null, {renderer:'canvas', width:1669, height:1667});

const TXT = '#000';
const TICK = 15.5, NAME = 15.8, TITLE = 19.5;
const grids = [
  {left:81,  top:37,   width:750, height:467},
  {left:911, top:37,   width:750, height:467},
  {left:81,  top:598,  width:750, height:468},
  {left:911, top:598,  width:750, height:468},
  {left:911, top:1161, width:750, height:466}
].map(g => Object.assign({show:true, borderColor:'#000', borderWidth:1.2, backgroundColor:'transparent', containLabel:false, outerBoundsMode:'none'}, g));

function valAxis(gi, min, max, ticks, fmt, extra) {
  return Object.assign({
    type:'value', gridIndex:gi, min:min, max:max, scale:true,
    axisLine:{show:false, onZero:false},
    axisTick:{show:true, inside:false, length:5.5, lineStyle:{color:'#000', width:1.2}, customValues:ticks},
    axisLabel:{show:true, customValues:ticks, formatter:fmt, color:TXT, fontSize:TICK, fontFamily:FONT, margin:11},
    splitLine:{show:false},
    nameLocation:'middle',
    nameTextStyle:{color:TXT, fontSize:NAME, fontFamily:FONT}
  }, extra || {});
}
const minus = v => (v < 0 ? '\u2212' : '') + Math.abs(v);

const minorLog = [];
[1,10,100,1000,10000].forEach(d => { for (let k = 2; k <= 9; k++) { const lv = Math.log10(k*d); if (lv >= 0.803 && lv <= 5.034) minorLog.push(lv); } });

const xAxes = [
  valAxis(0, 1.857, 11.593, [2,4,6,8,10], v => String(v), {name:'actual log(USD)', nameGap:35}),
  {
    type:'category', gridIndex:1, data:boxLengths, boundaryGap:true,
    axisLine:{show:false, onZero:false},
    axisTick:{show:true, alignWithLabel:true, length:5.5, lineStyle:{color:'#000', width:1.2}},
    axisLabel:{color:TXT, fontSize:TICK, fontFamily:FONT, margin:11},
    splitLine:{show:false},
    name:'label length', nameLocation:'middle', nameGap:35,
    nameTextStyle:{color:TXT, fontSize:NAME, fontFamily:FONT}
  },
  valAxis(2, -0.89, 9.89, [0,1,2,3,4,5,6,7,8,9], v => deciles[Math.round(v)], {name:'actual price decile', nameGap:35}),
  valAxis(3, -0.05, 1.05, [0,0.2,0.4,0.6,0.8,1.0], v => Number(v).toFixed(1), {name:'quantile', nameGap:35}),
  valAxis(4, -0.593, 3.593, [0,1,2,3], v => versions[Math.round(v)])
];
const yAxes = [
  valAxis(0, 1.857, 11.593, [2,4,6,8,10], v => String(v), {name:'predicted log(USD)', nameRotate:90, nameGap:43}),
  valAxis(1, -5.127, 4.707, [-4,-2,0,2,4], minus, {name:'residual', nameRotate:90, nameGap:45}),
  valAxis(2, 0, 100, [0,20,40,60,80,100], v => String(v), {name:'coverage %', nameRotate:90, nameGap:52}),
  valAxis(3, 0.803, 5.034, [1,2,3,4,5], v => usdTickLabels[Math.round(v)-1], {name:'USD', nameRotate:90, nameGap:50, position:'left'}),
  valAxis(4, 0, 0.5543, [0,0.1,0.2,0.3,0.4,0.5], v => Number(v).toFixed(1), {name:'Test R\u00b2(log)', nameRotate:90, nameGap:47, interval:0.1, z:5,
    splitLine:{show:true, lineStyle:{color:'rgba(176,176,176,0.3)', width:1.2}}}),
  valAxis(3, 0.803, 5.034, minorLog, () => '', {position:'left', offset:0,
    axisTick:{show:true, inside:false, length:3.2, lineStyle:{color:'#000', width:0.9}, customValues:minorLog},
    axisLabel:{show:false}})
];

const boxData = boxLengths.map((_, i) => [i, boxWhiskerLow[i], boxQ1[i], boxMedian[i], boxQ3[i], boxWhiskerHigh[i]]);

const series = [
  {
    name:'calib', type:'scatter', xAxisIndex:0, yAxisIndex:0,
    data:calibPoints, symbol:'circle', symbolSize:4.2, silent:true, large:false,
    itemStyle:{color:'rgba(31,119,180,0.32)'}, z:2
  },
  {
    name:'perfect', type:'line', xAxisIndex:0, yAxisIndex:0,
    data:[[perfectRange[0], perfectRange[0]], [perfectRange[1], perfectRange[1]]],
    showSymbol:false, symbol:'none', silent:true, z:3,
    lineStyle:{color:'rgba(255,0,0,0.7)', width:2.4, type:[8.8,3.8]},
    itemStyle:{color:'rgba(255,0,0,0.7)'}
  },
  {
    name:'box', type:'custom', xAxisIndex:1, yAxisIndex:1, data:boxData, silent:true, z:2,
    encode:{x:0, y:[1,2,3,4,5]},
    renderItem:function(params, api){
      const i = api.value(0);
      const bw = api.size([1,0])[0];
      const half = bw*0.25, cap = bw*0.125;
      const pL = api.coord([i, api.value(1)]);
      const pQ1 = api.coord([i, api.value(2)]);
      const pM = api.coord([i, api.value(3)]);
      const pQ3 = api.coord([i, api.value(4)]);
      const pH = api.coord([i, api.value(5)]);
      const x = pM[0];
      const ls = {stroke:'#000', lineWidth:1.6};
      return {type:'group', children:[
        {type:'line', shape:{x1:x, y1:pQ3[1], x2:x, y2:pH[1]}, style:ls},
        {type:'line', shape:{x1:x, y1:pQ1[1], x2:x, y2:pL[1]}, style:ls},
        {type:'line', shape:{x1:x-cap, y1:pH[1], x2:x+cap, y2:pH[1]}, style:ls},
        {type:'line', shape:{x1:x-cap, y1:pL[1], x2:x+cap, y2:pL[1]}, style:ls},
        {type:'rect', shape:{x:x-half, y:pQ3[1], width:2*half, height:pQ1[1]-pQ3[1]}, style:{stroke:'#000', lineWidth:1.6, fill:null}},
        {type:'line', shape:{x1:x-half+0.8, y1:pM[1], x2:x+half-0.8, y2:pM[1]}, style:{stroke:'#ff7f0e', lineWidth:1.6}}
      ]};
    }
  },
  {
    name:'zero', type:'line', xAxisIndex:1, yAxisIndex:1, data:[], silent:true,
    markLine:{symbol:'none', silent:true, label:{show:false}, z:1,
      lineStyle:{color:'rgba(255,0,0,0.5)', width:2.4, type:[8.8,3.8]},
      data:[{yAxis:residualZero}]}
  },
  {
    name:'coverage', type:'custom', xAxisIndex:2, yAxisIndex:2, silent:true, clip:true, z:2,
    data:coveragePct.map((v,i)=>[i,v]), encode:{x:0, y:1},
    renderItem:function(params, api){
      const i = api.value(0), v = api.value(1);
      const p0 = api.coord([i-0.4, v]), p1 = api.coord([i+0.4, 0]);
      return {type:'rect', shape:{x:p0[0], y:p0[1], width:p1[0]-p0[0], height:p1[1]-p0[1]}, style:{fill:'#4682b4'}};
    }
  },
  {
    name:'nominal 90%', type:'line', xAxisIndex:2, yAxisIndex:2, data:[], silent:true, z:4,
    symbol:'none',
    lineStyle:{color:'#ff0000', width:2.4, type:[8.8,3.8]},
    itemStyle:{color:'#ff0000'},
    markLine:{symbol:'none', silent:true, label:{show:false},
      lineStyle:{color:'#ff0000', width:2.4, type:[8.8,3.8]},
      data:[{yAxis:nominalCoverage}]}
  },
  {
    name:'actual', type:'line', xAxisIndex:3, yAxisIndex:3, silent:true,
    data:quantiles.map((q,i)=>[q, Math.log10(actualUSD[i])]),
    symbol:'none', showSymbol:false, lineStyle:{color:'#1f77b4', width:3}, itemStyle:{color:'#1f77b4'}, z:3
  },
  {
    name:'predicted', type:'line', xAxisIndex:3, yAxisIndex:3, silent:true,
    data:quantiles.map((q,i)=>[q, Math.log10(predictedUSD[i])]),
    symbol:'none', showSymbol:false, lineStyle:{color:'#ff7f0e', width:3}, itemStyle:{color:'#ff7f0e'}, z:3
  },
  {
    name:'versions', type:'custom', xAxisIndex:4, yAxisIndex:4, silent:true, z:2,
    data:versionR2.map((v,i)=>[i,v]), encode:{x:0, y:1},
    renderItem:function(params, api){
      const i = api.value(0), v = api.value(1);
      const p0 = api.coord([i-0.4, v]), p1 = api.coord([i+0.4, 0]);
      return {type:'group', children:[
        {type:'rect', shape:{x:p0[0], y:p0[1], width:p1[0]-p0[0], height:p1[1]-p0[1]}, style:{fill:versionColors[i]}},
        {type:'text', style:{text:v.toFixed(3), x:(p0[0]+p1[0])/2, y:p0[1]-1, textAlign:'center', textVerticalAlign:'bottom',
          fontSize:17.5, fontWeight:'bold', fontFamily:FONT, fill:'#000'}}
      ]};
    }
  }
];

const legendBase = {
  orient:'vertical', backgroundColor:'rgba(255,255,255,0.8)', borderColor:'#cccccc', borderWidth:1.2, borderRadius:4,
  itemWidth:36, itemHeight:14, itemGap:8, selectedMode:false,
  itemStyle:{opacity:0, borderWidth:0},
  textStyle:{color:TXT, fontSize:NAME, fontFamily:FONT, padding:[0,0,0,7]}
};
const legends = [
  Object.assign({}, legendBase, {data:['perfect'], left:88, top:45, padding:[8,8,8,7], lineStyle:{width:2.4}}),
  Object.assign({}, legendBase, {data:['nominal 90%'], left:372, top:607, padding:[8,8,8,6], lineStyle:{width:2.4}}),
  Object.assign({}, legendBase, {data:['actual','predicted'], left:919, top:607, padding:[6,8,6,5], itemGap:9, lineStyle:{width:3.2}})
];

// titles and table as real text
const graphics = [];
function addText(t, x, y, size, align, family, weight) {
  graphics.push({type:'text', x:x, y:y, silent:true, style:{text:t, textAlign:align||'center', textVerticalAlign:'middle',
    fontSize:size, fontFamily:family||FONT, fontWeight:weight||'normal', fill:'#000'}});
}
addText('Calibration (TEST, R\u00b2=0.463)', 456, 21.5, TITLE);
addText('Residuals by length', 1286, 21, TITLE);
addText('Calibrated 90% CI coverage by decile (test overall: 80.8%)', 456, 582, TITLE);
addText('Price distribution shape', 1286, 582, TITLE);
addText('Version progression (v0.6 = base q=0.5, not broken final)', 1286, 1144.5, TITLE);
addText('Top 15 worst (TEST) \u2014 wash\u2713 = our flag caught it', 80, 1145, TITLE, 'left');

const fmtN = n => n.toLocaleString('en-US');
const tableLines = [];
tableLines.push('label'.padEnd(20) + 'actual'.padStart(9) + 'pred'.padStart(11) + 'low'.padStart(11) + 'high'.padStart(11) + 'wash'.padStart(6));
tableLines.push('-'.repeat(70));
tblLabel.forEach((lab, i) => {
  tableLines.push(lab.padEnd(20) + fmtN(tblActual[i]).padStart(9) + fmtN(tblPred[i]).padStart(11) + fmtN(tblLow[i]).padStart(11) + fmtN(tblHigh[i]).padStart(11) + (tblWash[i] ? '\u2713' : '').padStart(6));
});
tableLines.forEach((ln, i) => addText(ln, 80, 1189 + 15.05*i, 13.3, 'left', MONO));

chart.setOption({
  backgroundColor:'#ffffff',
  animation:false,
  textStyle:{fontFamily:FONT},
  grid:grids,
  xAxis:xAxes,
  yAxis:yAxes,
  legend:legends,
  series:series,
  graphic:graphics
});
</script>
</body></html>
